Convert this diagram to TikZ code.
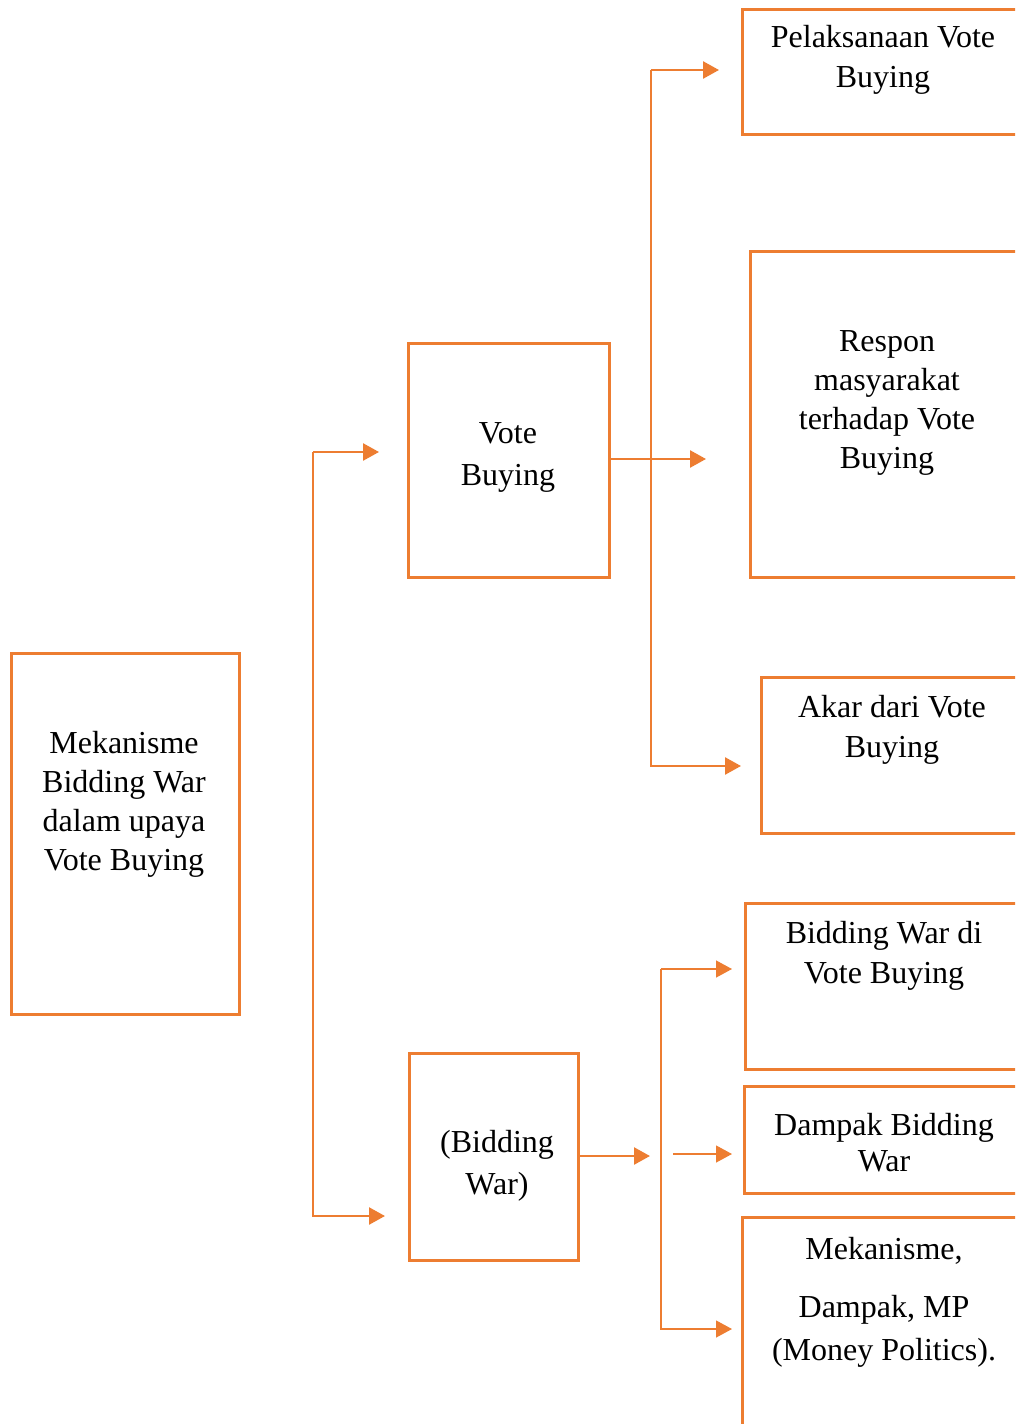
\documentclass[tikz,border=0pt]{standalone}
\usepackage{fontspec}
\setmainfont{Liberation Serif}
\usetikzlibrary{arrows.meta}
\definecolor{org}{HTML}{ED7D31}
\begin{document}
\begin{tikzpicture}[x=1pt,y=-1pt,
  box/.style={draw=org,line width=2.5pt,rectangle,anchor=north west,inner sep=0pt},
  conn/.style={draw=org,line width=2.5pt,-{Triangle[length=16pt,width=17pt]}},
  thinconn/.style={draw=org,line width=1.3pt,-{Triangle[length=16pt,width=17pt]}},
  txt/.style={align=center,inner sep=0pt,font=\fontsize{32}{39}\selectfont}]
\useasboundingbox (0,0) rectangle (1015,1424);
\clip (0,0) rectangle (1015,1424);
% boxes
\node[box,minimum width=228pt,minimum height=361pt] (A) at (10,652) {};
\node[box,minimum width=201pt,minimum height=234pt] (VB) at (407,342) {};
\node[box,minimum width=169pt,minimum height=207pt] (BW) at (408,1052) {};
\node[box,minimum width=300pt,minimum height=125pt] (R1) at (741,8) {};
\node[box,minimum width=300pt,minimum height=326pt] (R2) at (749,250) {};
\node[box,minimum width=300pt,minimum height=156pt] (R3) at (760,676) {};
\node[box,minimum width=300pt,minimum height=166pt] (R4) at (744,902) {};
\node[box,minimum width=300pt,minimum height=107pt] (R5) at (743,1085) {};
\node[box,minimum width=300pt,minimum height=260pt] (R6) at (741,1216) {};
% texts
\node[txt] (tA) at (124,804) {Mekanisme\\Bidding War\\dalam upaya\\Vote Buying};
\node[txt,font=\fontsize{32}{42}\selectfont] (tVB) at (508,457) {Vote\\Buying};
\node[txt,font=\fontsize{32}{42}\selectfont] (tBW) at (497,1166) {(Bidding\\War)};
\node[txt,font=\fontsize{32}{40}\selectfont] (tR1) at (883,60) {Pelaksanaan Vote\\Buying};
\node[txt] (tR2) at (887,403) {Respon\\masyarakat\\terhadap Vote\\Buying};
\node[txt,font=\fontsize{32}{40}\selectfont] (tR3) at (892,730) {Akar dari Vote\\Buying};
\node[txt,font=\fontsize{32}{40}\selectfont] (tR4) at (884,956) {Bidding War di\\Vote Buying};
\node[txt,font=\fontsize{32}{36}\selectfont] (tR5) at (884,1143) {Dampak Bidding\\War};
\node[txt] (tR6a) at (884,1251) {Mekanisme,};
\node[txt,font=\fontsize{32}{43}\selectfont] (tR6b) at (884,1331) {Dampak, MP\\(Money Politics).};
% coordinates
\coordinate (jA1) at (313,452);
\coordinate (eVB) at (379,452);
\coordinate (eBW) at (385,1216);
\coordinate (jV1) at (651,70);
\coordinate (eR1) at (719,70);
\coordinate (eR2) at (706,459);
\coordinate (eR3) at (741,766);
\coordinate (eBWm) at (650,1156);
\coordinate (jB1) at (661,969);
\coordinate (eR4) at (732,969);
\coordinate (sR5) at (673,1154);
\coordinate (eR5) at (732,1154);
\coordinate (eR6) at (732,1329);
% connectors
\draw[conn] (jA1) -- (eVB);
\draw[conn] (jA1) |- (eBW);
\draw[conn] (VB.east |- eR2) -- (eR2);
\draw[conn] (jV1) -- (eR1);
\draw[conn] (jV1) |- (eR3);
\draw[conn] (BW.east |- eBWm) -- (eBWm);
\draw[thinconn] (jB1) -- (eR4);
\draw[thinconn] (jB1) |- (eR6);
\draw[thinconn] (sR5) -- (eR5);
\end{tikzpicture}
\end{document}
